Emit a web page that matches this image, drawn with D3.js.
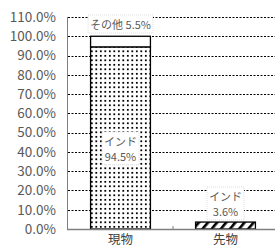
<!DOCTYPE html>
<html><head><meta charset="utf-8">
<script src="https://cdn.jsdelivr.net/npm/d3@7"></script>
<style>body{margin:0;background:#fff}svg{display:block}text{font-family:"Noto Sans CJK JP","Noto Sans",sans-serif}</style>
</head><body>
<script>
const categories = ["現物", "先物"];
const indiaValues = [94.5, 3.6];
const otherValues = [5.5, null];
const indiaLabel = "インド";
const otherLabel = "その他";
const yTicks = [0,10,20,30,40,50,60,70,80,90,100,110];

const W = 275, H = 248;
const svg = d3.select("body").append("svg").attr("width", W).attr("height", H);
const defs = svg.append("defs");
const dots = defs.append("pattern").attr("id","dots").attr("patternUnits","userSpaceOnUse").attr("width",4.5).attr("height",4.5);
dots.append("rect").attr("width",4.5).attr("height",4.5).attr("fill","#fff");
dots.append("rect").attr("x",1).attr("y",1).attr("width",2).attr("height",2).attr("fill","#000").attr("shape-rendering","crispEdges");
const hatch = defs.append("pattern").attr("id","hatch").attr("patternUnits","userSpaceOnUse").attr("width",7).attr("height",7).attr("patternTransform","rotate(40)");
hatch.append("rect").attr("width",7).attr("height",7).attr("fill","#fff");
hatch.append("rect").attr("x",0).attr("y",0).attr("width",2.6).attr("height",7).attr("fill","#000");

const y = d3.scaleLinear().domain([0,110]).range([229,17]);
const x = d3.scaleBand().domain(categories).range([68,278]).paddingInner(0.43).paddingOuter(0.215);

// gridlines
svg.append("g").selectAll("line").data(yTicks.filter(d=>d>0)).join("line")
  .attr("x1",68).attr("x2",W).attr("y1",d=>Math.round(y(d))+0.5).attr("y2",d=>Math.round(y(d))+0.5)
  .attr("stroke","#000").attr("stroke-width",1).attr("stroke-dasharray","2,1.5");

// y labels
svg.append("g").selectAll("text").data(yTicks).join("text")
  .attr("x",56).attr("y",d=>y(d)).attr("dy","0.36em").attr("text-anchor","end")
  .attr("font-size",13.5).attr("fill","#595959").text(d=>d.toFixed(1)+"%");

// bars
const g = svg.append("g");
categories.forEach((c,i)=>{
  const v = indiaValues[i];
  g.append("rect").attr("x",x(c)).attr("width",x.bandwidth())
    .attr("y",y(v)).attr("height",y(0)-y(v))
    .attr("fill", i===0 ? "url(#dots)" : "url(#hatch)")
    .attr("stroke","#000").attr("stroke-width",1.3);
  if (otherValues[i] != null) {
    const o = otherValues[i];
    g.append("rect").attr("x",x(c)).attr("width",x.bandwidth())
      .attr("y",y(v+o)).attr("height",y(v)-y(v+o))
      .attr("fill","#fff").attr("stroke","#000").attr("stroke-width",1.3);
  }
});

// axes lines
svg.append("line").attr("x1",67.5).attr("x2",67.5).attr("y1",17).attr("y2",229).attr("stroke","#7f7f7f");
svg.append("line").attr("x1",67).attr("x2",W).attr("y1",229.5).attr("y2",229.5).attr("stroke","#7f7f7f").attr("stroke-width",1.5);
const sep = x(categories[1]) - x.step()*x.paddingInner()/2;
svg.append("line").attr("x1",sep).attr("x2",sep).attr("y1",226).attr("y2",229).attr("stroke","#7f7f7f");

// category labels
svg.append("g").selectAll("text").data(categories).join("text")
  .attr("x",d=>x(d)+x.bandwidth()/2).attr("y",239.5).attr("dy","0.36em").attr("text-anchor","middle")
  .attr("font-size",12.5).attr("fill","#404040").text(d=>d);

// data labels
function label(cx, lines, cy, lh, bg) {
  const gg = svg.append("g");
  lines.forEach((t,k)=>gg.append("text").attr("x",cx).attr("y",cy + k*lh).attr("dy","0.36em")
     .attr("text-anchor","middle").attr("font-size",11).attr("fill","#595959").text(t));
  if (bg) {
    const bb = gg.node().getBBox();
    gg.insert("rect","text").attr("x",bb.x-2).attr("y",bb.y-1).attr("width",bb.width+4).attr("height",bb.height+2)
      .attr("fill","#fff").attr("stroke","#bfbfbf").attr("stroke-width",0.5).attr("stroke-dasharray","1,1");
  }
}
const c0 = x(categories[0]) + x.bandwidth()/2, c1 = x(categories[1]) + x.bandwidth()/2;
label(c0, [otherLabel + " " + otherValues[0].toFixed(1) + "%"], 25, 0, true);
label(c0, [indiaLabel, indiaValues[0].toFixed(1) + "%"], y(indiaValues[0]/2)+4, 15, true);
label(c1, [indiaLabel, indiaValues[1].toFixed(1) + "%"], 197, 15, true);
</script>
</body></html>
